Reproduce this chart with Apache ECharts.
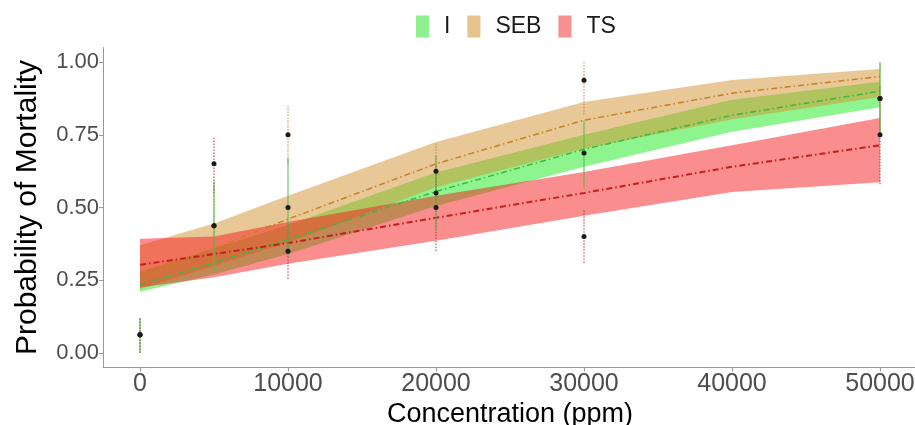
<!DOCTYPE html>
<html>
<head>
<meta charset="utf-8">
<script src="https://cdn.jsdelivr.net/npm/echarts@6/dist/echarts.min.js"></script>
<style>html,body{margin:0;padding:0;background:#fff}#c{width:915px;height:425px}</style>
</head>
<body>
<div id="c"></div>
<script>
// ---- data ----
const groups = ['I', 'SEB', 'TS'];
const xTicks = [0, 10000, 20000, 30000, 40000, 50000];
const yTicks = [0, 0.25, 0.5, 0.75, 1.0];

// fitted curves and confidence ribbons
const fitX = [0, 5000, 10000, 20000, 30000, 40000, 50000];
const I_fit = [0.235, 0.31, 0.39, 0.555, 0.70, 0.817, 0.90];
const I_lo  = [0.21, 0.27, 0.34, 0.505, 0.64, 0.76, 0.845];
const I_hi  = [0.28, 0.36, 0.44, 0.62, 0.75, 0.87, 0.932];
const SEB_fit = [0.258, 0.36, 0.46, 0.65, 0.80, 0.893, 0.95];
const SEB_lo  = [0.22, 0.30, 0.38, 0.57, 0.703, 0.803, 0.88];
const SEB_hi  = [0.37, 0.445, 0.54, 0.725, 0.863, 0.938, 0.976];
const TS_fit = [0.303, 0.34, 0.378, 0.465, 0.55, 0.64, 0.714];
const TS_lo  = [0.225, 0.26, 0.307, 0.386, 0.472, 0.553, 0.587];
const TS_hi  = [0.393, 0.40, 0.45, 0.54, 0.622, 0.714, 0.808];

// observed means with error bars
const obsX = [0, 5000, 10000, 20000, 30000, 50000];
const I_obs = [0.0625, 0.4375, 0.5, 0.55, 0.6875, 0.875];
const I_errLo = [0, 0.28, 0.33, 0.42, 0.566, 0.75];
const I_errHi = [0.12, 0.59, 0.67, 0.68, 0.80, 1.0];
const SEB_obs = [0.0625, 0.4375, 0.75, 0.625, 0.9375, 0.875];
const SEB_errLo = [0, 0.30, 0.65, 0.53, 0.82, 0.75];
const SEB_errHi = [0.12, 0.57, 0.85, 0.72, 1.0, 1.0];
const TS_obs = [0.0625, 0.65, 0.35, 0.5, 0.40, 0.75];
const TS_errLo = [0, 0.55, 0.255, 0.35, 0.31, 0.58];
const TS_errHi = [0.12, 0.74, 0.445, 0.65, 0.49, 0.92];

// ---- styles ----
const bandFill = { I: 'rgba(30,235,30,0.5)', SEB: 'rgba(210,145,45,0.5)', TS: 'rgba(245,30,30,0.5)' };
const legendFill = { I: '#8ef08e', SEB: '#e6c38c', TS: '#f79090' };
const lineCol = { I: '#3cb83c', SEB: '#c8801e', TS: '#c41e1e' };
const barCol = { I: '#4cbb4c', SEB: '#b8844a', TS: '#b03030' };
const font = '"Liberation Sans", Arial, sans-serif';

const fits = {
  I: [I_fit, I_lo, I_hi], SEB: [SEB_fit, SEB_lo, SEB_hi], TS: [TS_fit, TS_lo, TS_hi]
};
const obs = {
  I: [I_obs, I_errLo, I_errHi], SEB: [SEB_obs, SEB_errLo, SEB_errHi], TS: [TS_obs, TS_errLo, TS_errHi]
};

const series = [];
groups.forEach((g, gi) => {
  const [fit, lo, hi] = fits[g];
  series.push({
    name: g, type: 'custom', z: 2 + gi,
    data: fitX.map((x, i) => [x, lo[i], hi[i]]),
    encode: { x: 0, y: [1, 2] },
    renderItem: function (params, api) {
      if (params.dataIndex !== 0) return null;
      const pts = [];
      for (let i = 0; i < fitX.length; i++) pts.push(api.coord([fitX[i], hi[i]]));
      for (let i = fitX.length - 1; i >= 0; i--) pts.push(api.coord([fitX[i], lo[i]]));
      return { type: 'polygon', shape: { points: pts }, style: { fill: bandFill[g] } };
    },
    itemStyle: { color: legendFill[g] },
    silent: true
  });
});
groups.forEach((g, gi) => {
  const [fit] = fits[g];
  series.push({
    name: g + ' fit', type: 'line', z: 10 + gi, symbol: 'none', silent: true,
    data: fitX.map((x, i) => [x, fit[i]]),
    lineStyle: { color: lineCol[g], width: g === 'TS' ? 2 : 1.5, type: [6, 3, 1.5, 3] }
  });
});
['SEB', 'TS', 'I'].forEach((g, gi) => {
  const [m, lo, hi] = obs[g];
  series.push({
    name: g + ' err', type: 'custom', z: 20 + gi, silent: true,
    data: obsX.map((x, i) => [x, lo[i], hi[i]]),
    encode: { x: 0, y: [1, 2] },
    renderItem: function (params, api) {
      const a = api.coord([api.value(0), api.value(1)]);
      const b = api.coord([api.value(0), api.value(2)]);
      return { type: 'line', shape: { x1: a[0], y1: a[1], x2: b[0], y2: b[1] },
        style: { stroke: barCol[g], lineWidth: 1, lineDash: g === 'I' ? null : [1.5, 1.5] } };
    }
  });
});
groups.forEach((g, gi) => {
  const [m] = obs[g];
  series.push({
    name: g + ' obs', type: 'scatter', z: 30 + gi, silent: true,
    data: obsX.map((x, i) => [x, m[i]]),
    symbolSize: 5, itemStyle: { color: '#1a1a1a', opacity: 1 }
  });
});

const chart = echarts.init(document.getElementById('c'));
chart.setOption({
  animation: false,
  backgroundColor: '#fff',
  legend: {
    left: 411, top: 10, itemWidth: 13, itemHeight: 22, itemGap: 17,
    data: groups.map(g => ({ name: g, icon: 'rect', itemStyle: { color: legendFill[g] } })),
    textStyle: { fontSize: 23, color: '#1a1a1a', fontFamily: font, padding: [0, 0, 0, 10] },
    selectedMode: false
  },
  grid: { left: 103, width: 814, top: 47.5, height: 320, containLabel: false, outerBoundsMode: 'none' },
  xAxis: {
    type: 'value', min: -2500, max: 52500,
    name: 'Concentration (ppm)', nameLocation: 'middle', nameGap: 24,
    nameTextStyle: { fontSize: 27, color: '#000', fontFamily: font },
    axisLine: { show: true, onZero: false, lineStyle: { color: '#999', width: 1 } },
    axisTick: { show: true, length: 4, customValues: xTicks, lineStyle: { color: '#999' } },
    axisLabel: { customValues: xTicks, fontSize: 25, color: '#4d4d4d', fontFamily: font, margin: 4,
      formatter: v => String(v) },
    splitLine: { show: false }
  },
  yAxis: {
    type: 'value', min: -0.05, max: 1.05,
    name: 'Probability of Mortality', nameLocation: 'middle', nameGap: 60,
    nameTextStyle: { fontSize: 30, color: '#000', fontFamily: font },
    axisLine: { show: true, onZero: false, lineStyle: { color: '#999', width: 1 } },
    axisTick: { show: true, length: 4, customValues: yTicks, lineStyle: { color: '#999' } },
    axisLabel: { customValues: yTicks, fontSize: 22, color: '#4d4d4d', fontFamily: font, margin: 4,
      formatter: v => v.toFixed(2) },
    splitLine: { show: false }
  },
  series: series
});
</script>
</body>
</html>
